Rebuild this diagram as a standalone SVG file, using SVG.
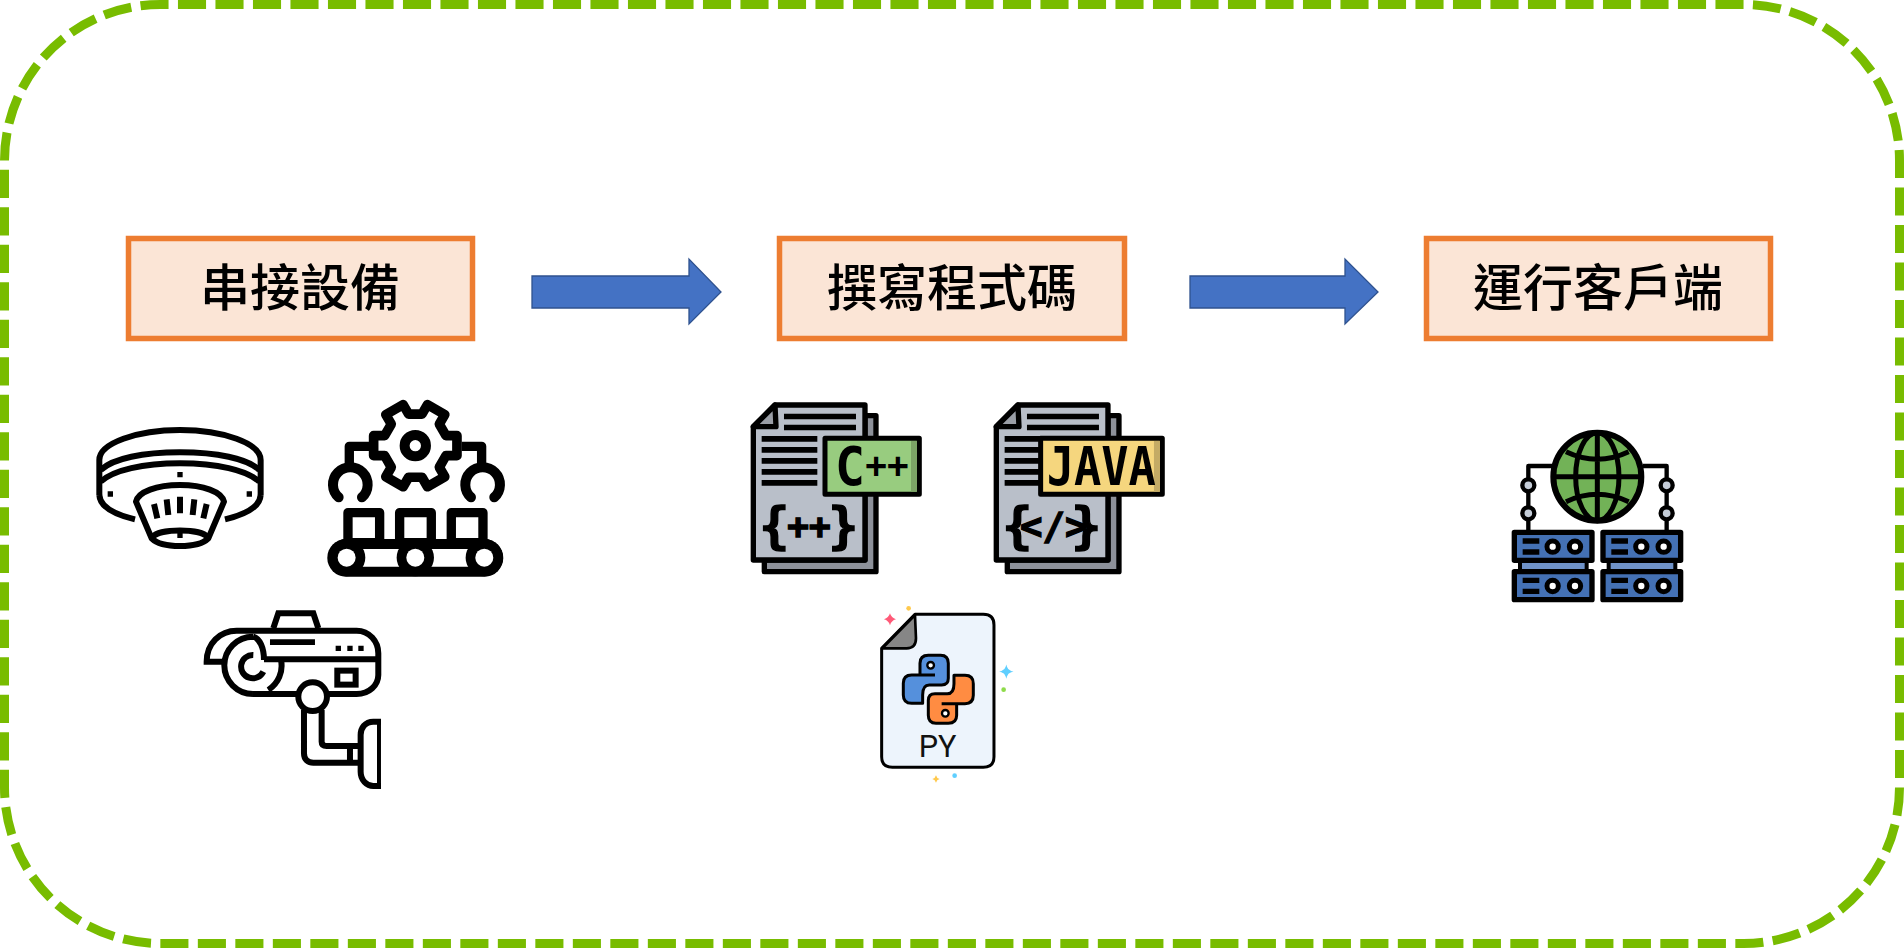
<svg xmlns="http://www.w3.org/2000/svg" width="1904" height="948" viewBox="0 0 1904 948">
<style>
.step rect{fill:#fbe5d6;stroke:#ed7d31;stroke-width:5.5}
.step text{font-family:"Noto Sans CJK TC","Noto Sans CJK SC",sans-serif;font-size:50px;font-weight:500;text-anchor:middle;fill:#000}
.arrow{fill:#4472c4;stroke:#2f528f;stroke-width:1.3}
.ln{fill:none;stroke:#000;stroke-width:18}
.bk{fill:#000}
.doc{stroke:#000;stroke-width:16;stroke-linejoin:round}
.mono{font-family:"DejaVu Sans Mono","Liberation Mono",monospace;font-weight:700;fill:#000}
.brace{stroke:#000;stroke-width:4}
.srv{fill:#4471b4;stroke:#000;stroke-width:16;stroke-linejoin:round}
.hole{fill:#fff;stroke:#000;stroke-width:15}
.bead{fill:#c5cdd8;stroke:#000;stroke-width:13}
</style>
<defs>
<g id="doc-base">
<path class="doc" fill="#8d919a" d="M405 107H438V575H103V540H405Z"/>
<path class="doc" fill="#b9bfc9" d="M135 75H405V540H70V140Z"/>
<path class="doc" fill="#9a9ea6" d="M135 75L70 140H138Z"/>
<path class="bk" d="M162 101h216v17H162zM162 134h216v17H162zM95 168h167v17H95zM95 201h167v17H95zM95 234h167v17H95zM95 267h167v17H95zM95 300h167v17H95z"/>
</g>
<g id="server">
<rect x="120" y="450" width="200" height="35" fill="#6f92c8" stroke="#000" stroke-width="12"/>
<rect class="srv" x="103" y="367" width="233" height="84"/>
<rect class="srv" x="103" y="485" width="233" height="84"/>
<path class="bk" d="M128 385h50v16h-50zM128 418h50v16h-50zM128 503h50v16h-50zM128 536h50v16h-50z"/>
<circle class="hole" cx="218" cy="410" r="17"/><circle class="hole" cx="285" cy="410" r="17"/>
<circle class="hole" cx="218" cy="528" r="17"/><circle class="hole" cx="285" cy="528" r="17"/>
</g>
</defs>
<rect width="1904" height="948" fill="#fff"/>
<path id="frame" d="M4.5 160.6A156 156 0 0 1 160.6 4.5H1743.5A156 156 0 0 1 1899.5 160.6V787.5A156 156 0 0 1 1743.5 943.5H160.6A156 156 0 0 1 4.5 787.5Z" fill="none" stroke="#78bc00" stroke-width="9" stroke-dasharray="28.1 9.4"/>

<g id="connectors">
<path class="arrow" d="M532 276H689V259L721 292 689 324V308H532Z"/>
<path class="arrow" d="M1190 276H1345V259L1378 292 1345 324V308H1190Z"/>
</g>

<g id="step-connect" class="step"><rect x="128.5" y="238.5" width="344" height="100"/><text x="300" y="306">串接設備</text></g>
<g id="step-code" class="step"><rect x="779.5" y="238.5" width="345" height="100"/><text x="952" y="306">撰寫程式碼</text></g>
<g id="step-run" class="step"><rect x="1426.5" y="238.5" width="344" height="100"/><text x="1598" y="306">運行客戶端</text></g>

<g id="icon-detector" transform="translate(80 380) scale(.3333)">
<path class="ln" d="M58 345V240C58 190 170 150 300 150S542 190 542 240V345"/>
<path class="ln" d="M62 270C100 235 190 217 300 217S500 235 538 270M62 305C100 270 190 250 300 250S500 270 538 305"/>
<path class="ln" d="M58 345C60 385 110 405 165 418M542 345C540 385 490 405 435 418"/>
<path class="bk" d="M292 276h16v16h-16zM83 334h16v16h-16zM500 334h16v16h-16zM292 458h16v16h-16z"/>
<path class="ln" stroke-linejoin="round" d="M168 365C175 335 230 315 300 315S425 335 432 365L385 475C370 490 340 498 300 498S230 490 215 475Z"/>
<path class="ln" d="M218 470C240 445 360 445 382 470"/>
<path class="ln" d="M222 372L232 415M260 358L265 405M300 350V400M343 358L338 405M380 372L370 415"/>
</g>

<g id="icon-factory" transform="translate(80 380) scale(.3333)">
<path fill="none" stroke="#000" stroke-width="29" stroke-linejoin="round" transform="translate(1006 197)" d="M92 -30L125 -30 125 30 92 30 72 64.7 88.5 93.3 36.5 123.3 20 94.7 -20 94.7 -36.5 123.3 -88.5 93.3 -72 64.7 -92 30 -125 30 -125 -30 -92 -30 -72 -64.7 -88.5 -93.3 -36.5 -123.3 -20 -94.7 20 -94.7 36.5 -123.3 88.5 -93.3 72 -64.7Z"/>
<circle cx="1006" cy="197" r="32" fill="none" stroke="#000" stroke-width="30"/>
<path fill="none" stroke="#000" stroke-width="28" stroke-linejoin="round" d="M868 199H808V255M1145 199H1205V255"/>
<path fill="none" stroke="#000" stroke-width="30" stroke-linecap="round" d="M776 352A52 52 0 1 1 846 352M1173 352A52 52 0 1 1 1243 352"/>
<g fill="#fff" stroke="#000" stroke-width="28" stroke-linejoin="round"><rect x="804" y="398" width="95" height="90"/><rect x="959" y="398" width="95" height="90"/><rect x="1114" y="398" width="95" height="90"/></g>
<rect x="742" y="477" width="528" height="113" rx="56" class="bk"/>
<path fill="#fff" d="M845 507H968V560H845zM1045 507H1168V560H1045z"/>
<circle cx="800" cy="533" r="56" class="bk"/><circle cx="1006" cy="533" r="56" class="bk"/><circle cx="1213" cy="533" r="56" class="bk"/>
<circle cx="800" cy="533" r="27" fill="#fff"/><circle cx="1006" cy="533" r="27" fill="#fff"/><circle cx="1213" cy="533" r="27" fill="#fff"/>
</g>

<g id="icon-camera" transform="translate(80 380) scale(.3333)">
<path class="ln" d="M580 745L595 700H700L715 745"/>
<path class="ln" d="M433 845H380C380 790 420 752 470 752H830C868 752 895 785 895 820V885C895 915 868 942 830 942H519"/>
<path class="ln" d="M552 838H895M519 770A86 86 0 1 0 519 942M519 770C540 775 552 805 552 840M603 840A86 86 0 0 1 565 930"/>
<path class="ln" d="M520 825A35 35 0 1 0 550 875"/>
<path class="bk" d="M570 778h135v17H570zM767 797h16v16h-16zM802 797h16v16h-16zM835 797h16v16h-16z"/>
<rect class="ln" x="772" y="872" width="55" height="42"/>
<circle cx="698" cy="950" r="43" fill="#fff" stroke="#000" stroke-width="18"/>
<path class="ln" d="M672 990V1120C672 1140 685 1148 700 1148H840M725 990V1085Q725 1098 740 1098H840M810 1098V1148"/>
<path class="ln" d="M903 1025H880C855 1025 842 1045 842 1065V1175C842 1200 860 1218 880 1218H903"/>
<path fill="none" stroke="#000" stroke-width="12" d="M897 1018V1224"/>
</g>

<g id="icon-cpp" transform="translate(730 380) scale(.3333)">
<use href="#doc-base"/>
<rect x="285" y="175" width="283" height="168" fill="#98cc7f" stroke="#000" stroke-width="15" stroke-linejoin="round"/>
<rect x="543" y="183" width="18" height="152" fill="#7ca366"/>
<text class="mono"><tspan x="315" y="315" font-size="158" textLength="90" lengthAdjust="spacingAndGlyphs">C</tspan><tspan x="406" y="293" font-size="108">++</tspan></text>
<text class="mono brace"><tspan x="88" y="490" font-size="150">{</tspan><tspan x="172" y="476" font-size="108">++</tspan><tspan x="295" y="490" font-size="150">}</tspan></text>
</g>

<g id="icon-java" transform="translate(730 380) scale(.3333)">
<use href="#doc-base" x="729"/>
<rect x="932" y="175" width="365" height="168" fill="#f5d67e" stroke="#000" stroke-width="15" stroke-linejoin="round"/>
<rect x="1272" y="183" width="18" height="152" fill="#c4ab65"/>
<text class="mono" x="950" y="315" font-size="158" textLength="328" lengthAdjust="spacingAndGlyphs">JAVA</text>
<text class="mono brace"><tspan x="817" y="490" font-size="150">{</tspan><tspan x="870" y="476" font-size="112">&lt;/&gt;</tspan><tspan x="1024" y="490" font-size="150">}</tspan></text>
</g>

<g id="icon-python" transform="translate(730 380) scale(.3333)">
<path fill="#edf4fc" stroke="#000" stroke-width="9" stroke-linejoin="round" d="M555 703H760Q792 703 792 735V1130Q792 1162 760 1162H487Q455 1162 455 1130V805Z"/>
<path fill="#868686" stroke="#000" stroke-width="8" stroke-linejoin="round" d="M555 705L457 805H530Q558 805 558 775Z"/>
<g stroke="#000" stroke-width="9" stroke-linejoin="round">
<path fill="#5590dc" d="M570 885V850Q570 826 595 826H632Q655 826 655 850V895Q655 915 635 915H598Q578 915 578 945V970H545Q520 970 520 945V910Q520 885 545 885H615"/>
<path fill="#ff8c42" transform="rotate(180 625 928)" d="M570 885V850Q570 826 595 826H632Q655 826 655 850V895Q655 915 635 915H598Q578 915 578 945V970H545Q520 970 520 945V910Q520 885 545 885H615"/>
<circle cx="602" cy="856" r="10" fill="#fff" stroke-width="7"/><circle cx="646" cy="1000" r="10" fill="#fff" stroke-width="7"/>
</g>
<text x="623" y="1130" font-family="Roboto,'Noto Sans',sans-serif" font-size="92" text-anchor="middle" fill="#111">PY</text>
<path fill="#ff5a78" d="M480 700Q484 714 498 718 484 722 480 736 476 722 462 718 476 714 480 700Z"/>
<path fill="#5fcfff" d="M829 861Q832 872 843 875 832 878 829 889 826 878 815 875 826 872 829 861Z" stroke="#5fcfff" stroke-width="4"/>
<path fill="#ffc94d" d="M618 1186Q620 1195 629 1197 620 1199 618 1208 616 1199 607 1197 616 1195 618 1186Z"/>
<circle cx="536" cy="685" r="7" fill="#ffc94d"/><circle cx="821" cy="929" r="7" fill="#8edb4a"/><circle cx="674" cy="1187" r="7" fill="#5fcfff"/>
</g>

<g id="icon-servers" transform="translate(1480 410) scale(.3333)">
<path fill="none" stroke="#000" stroke-width="13" stroke-linejoin="round" d="M218 168H145V365M488 168H560V365"/>
<circle class="bead" cx="145" cy="226" r="18"/><circle class="bead" cx="145" cy="310" r="18"/>
<circle class="bead" cx="560" cy="226" r="18"/><circle class="bead" cx="560" cy="310" r="18"/>
<circle cx="352" cy="200" r="132" fill="#72b257" stroke="#000" stroke-width="18"/>
<g fill="none" stroke="#000" stroke-width="15"><ellipse cx="352" cy="200" rx="65" ry="132"/><path d="M352 68V332M220 200H484M258 125Q352 170 446 125M258 275Q352 230 446 275"/></g>
<use href="#server"/><use href="#server" x="266"/>
</g>
</svg>
